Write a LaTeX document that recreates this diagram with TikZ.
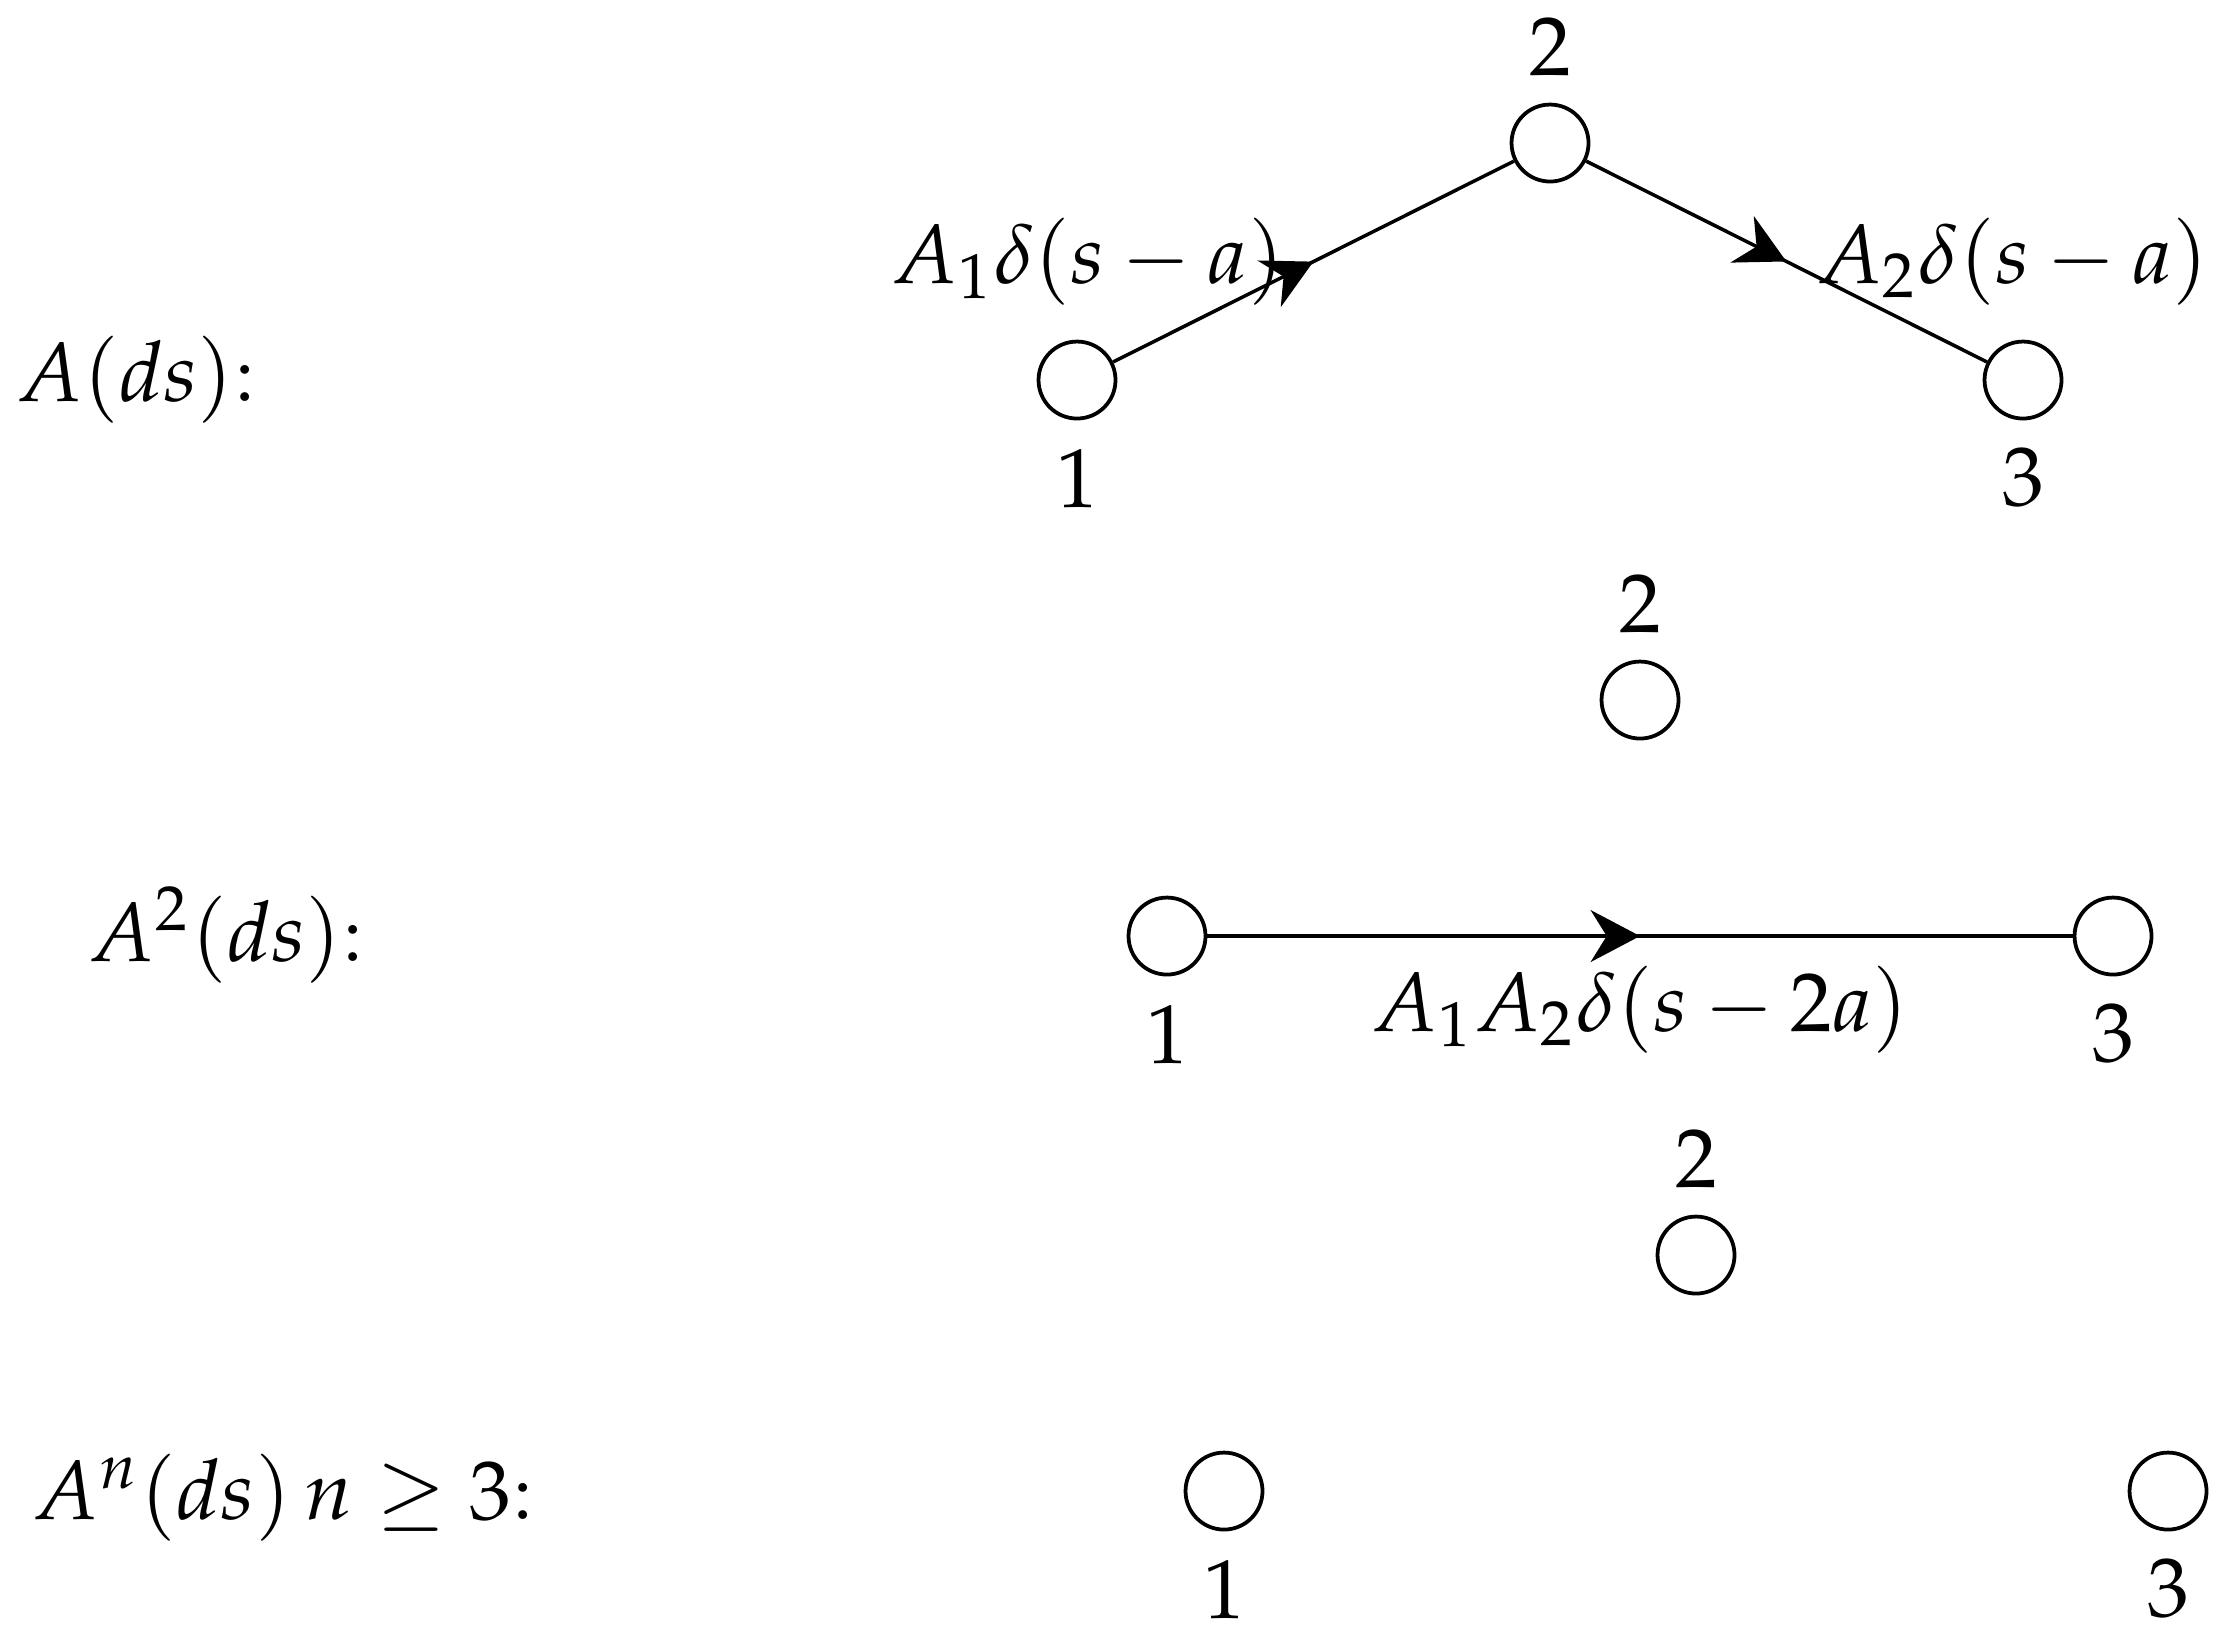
\documentclass[tikz,border=0pt]{standalone}
\usepackage{mathpazo}
\usetikzlibrary{arrows.meta,decorations.markings}
\tikzset{
  vtx/.style={draw,circle,inner sep=0pt,minimum size=9.2pt,line width=0.45pt},
  num/.style={inner sep=0pt},
  rowlbl/.style={inner sep=0pt,anchor=base west},
  edge/.style={line width=0.42pt,postaction={decorate},
    decoration={markings,mark=at position 0.5 with {\arrow{Stealth[length=5.9pt,width=6.2pt]}}}}
}
\begin{document}
\begin{tikzpicture}[x=0.1195pt,y=-0.1195pt]
\useasboundingbox (0,0) rectangle (2232,1644);
% row labels
\node[rowlbl] (r1) at (15,401) {$A(ds)$:};
\node[rowlbl] (r2) at (87,961) {$A^2(ds)$:};
\node[rowlbl] (r3) at (31,1519) {$A^n(ds)\,n\geq 3$:};
% row 1
\node[vtx] (a1) at (1077,380) {};
\node[vtx] (a2) at (1550,143) {};
\node[vtx] (a3) at (2023,380) {};
\node[num] (a1l) at (1077,478) {$1$};
\node[num] (a2l) at (1550,47) {$2$};
\node[num] (a3l) at (2023,478) {$3$};
\draw[edge] (a1) -- (a2) node[midway,left] (e12) {$A_1\delta(s-a)$};
\draw[edge] (a2) -- (a3) node[midway,right] (e23) {$A_2\delta(s-a)$};
% row 2
\node[vtx] (b1) at (1167,936) {};
\node[vtx] (b2) at (1640,700) {};
\node[vtx] (b3) at (2113,936) {};
\node[num] (b1l) at (1167,1034) {$1$};
\node[num] (b2l) at (1640,604) {$2$};
\node[num] (b3l) at (2113,1034) {$3$};
\draw[edge] (b1) -- (b3) node[midway,below] (e13) {$A_1A_2\delta(s-2a)$};
% row 3
\node[vtx] (c1) at (1224,1491) {};
\node[vtx] (c2) at (1696,1255) {};
\node[vtx] (c3) at (2168,1491) {};
\node[num] (c1l) at (1224,1589) {$1$};
\node[num] (c2l) at (1696,1159) {$2$};
\node[num] (c3l) at (2168,1589) {$3$};
\end{tikzpicture}
\end{document}
